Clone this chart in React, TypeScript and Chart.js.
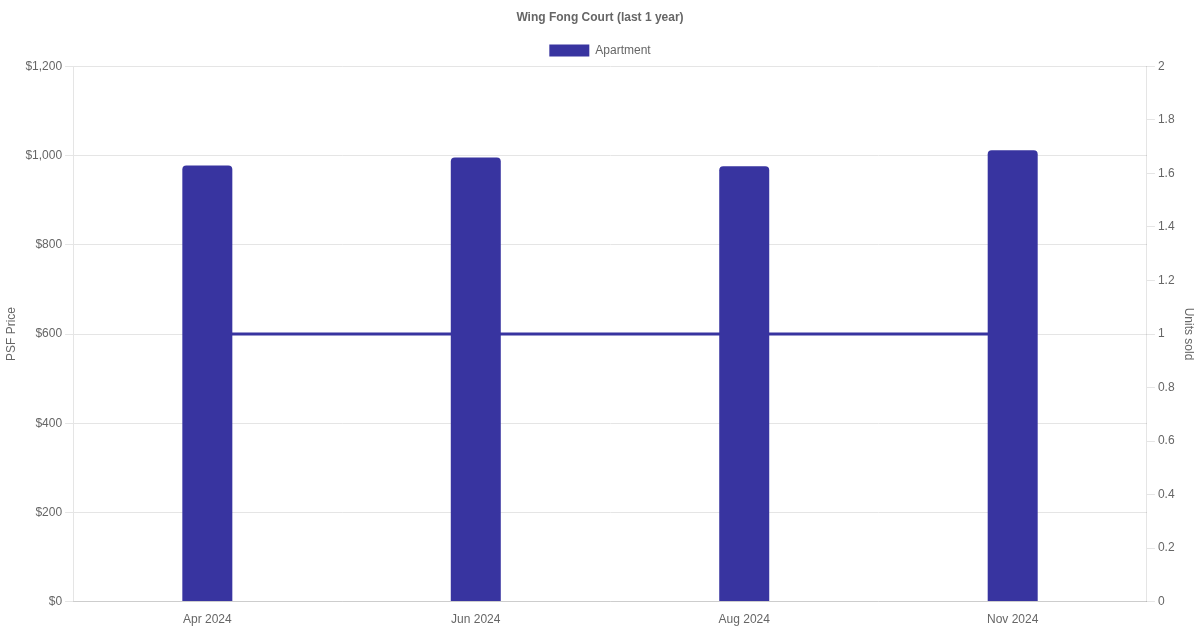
import React, { useEffect, useRef } from "react";
import { Chart, registerables } from "chart.js";

Chart.register(...registerables);

const categories = ["Apr 2024", "Jun 2024", "Aug 2024", "Nov 2024"];
const psfPrices = [978, 996, 976, 1012];
const unitsSold = [1, 1, 1, 1];
const barColor = "#3834a0";

export default function App() {
  const ref = useRef<HTMLCanvasElement | null>(null);

  useEffect(() => {
    if (!ref.current) return;
    Chart.defaults.font.family = "'Liberation Sans', Arial, Helvetica, sans-serif";
    Chart.defaults.color = "#666";
    const chart = new Chart(ref.current, {
      type: "bar",
      data: {
        labels: categories,
        datasets: [
          {
            type: "bar",
            label: "Apartment",
            data: psfPrices,
            backgroundColor: barColor,
            borderColor: barColor,
            borderWidth: 0,
            borderRadius: 4,
            borderSkipped: "bottom",
            maxBarThickness: 50,
            yAxisID: "y",
            order: 1,
          },
          {
            type: "line",
            label: "Units",
            data: unitsSold,
            borderColor: barColor,
            backgroundColor: barColor,
            borderWidth: 3,
            pointRadius: 0,
            fill: false,
            yAxisID: "y1",
            order: 2,
          },
        ],
      },
      options: {
        responsive: false,
        animation: false,
        plugins: {
          title: {
            display: true,
            text: "Wing Fong Court (last 1 year)",
            font: { size: 12, weight: "bold" },
            color: "#666",
          },
          legend: {
            display: true,
            labels: {
              filter: (item) => item.text === "Apartment",
              boxWidth: 40,
              boxHeight: 12,
              font: { size: 12 },
            },
          },
          tooltip: { enabled: false },
        },
        scales: {
          x: {
            grid: { display: false },
            ticks: { font: { size: 12 } },
          },
          y: {
            position: "left",
            min: 0,
            max: 1200,
            ticks: {
              stepSize: 200,
              font: { size: 12 },
              callback: (v) => "$" + Number(v).toLocaleString("en-US"),
            },
            title: { display: true, text: "PSF Price", font: { size: 12 } },
            grid: { color: "#e5e5e5" },
          },
          y1: {
            position: "right",
            min: 0,
            max: 2,
            ticks: {
              stepSize: 0.2,
              font: { size: 12 },
              callback: (v) => String(Math.round(Number(v) * 10) / 10),
            },
            title: { display: true, text: "Units sold", font: { size: 12 } },
            grid: { drawOnChartArea: false, color: "#e5e5e5" },
          },
        },
      },
    });
    return () => chart.destroy();
  }, []);

  return (
    <div style={{ position: "fixed", left: 0, top: 0, width: 1200, height: 630, background: "#fff" }}>
      <canvas ref={ref} width={1200} height={630} />
    </div>
  );
}
